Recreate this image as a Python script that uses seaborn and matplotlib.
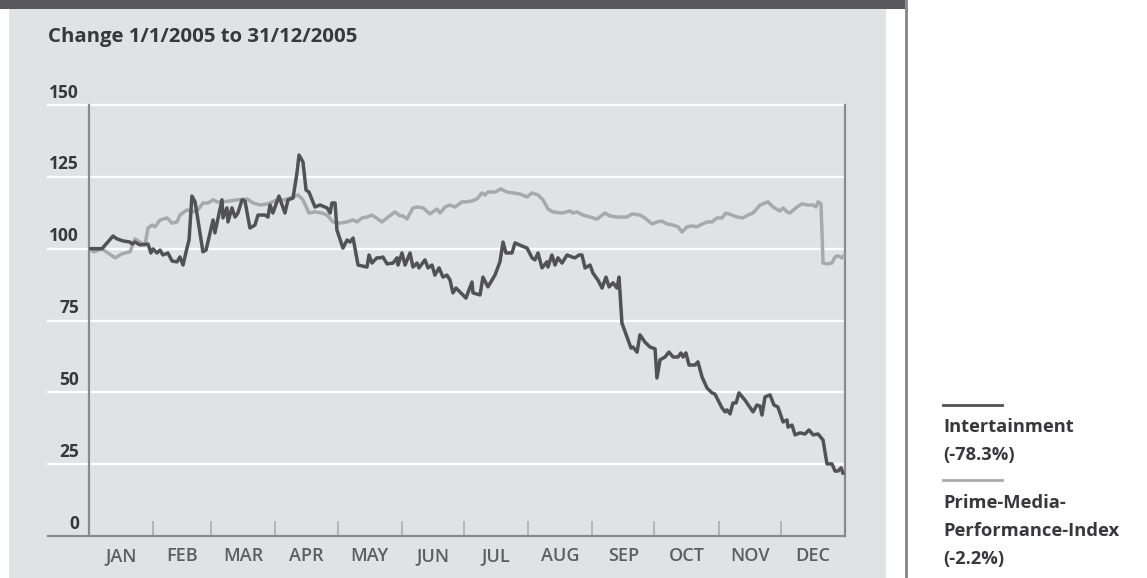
import numpy as np
import pandas as pd
import matplotlib
matplotlib.use("Agg")
import matplotlib.pyplot as plt
import seaborn as sns
from matplotlib.patches import Rectangle
from matplotlib.lines import Line2D

# ---------------- data ----------------
TITLE = "Change 1/1/2005 to 31/12/2005"
MONTHS = ["JAN", "FEB", "MAR", "APR", "MAY", "JUN", "JUL", "AUG", "SEP", "OCT", "NOV", "DEC"]
MONTH_STARTS = [0, 31, 59, 90, 120, 151, 181, 212, 243, 273, 304, 334, 365]
YTICKS = [0, 25, 50, 75, 100, 125, 150]
LEGEND_LABELS = ["Intertainment\n(-78.3%)", "Prime-Media-\nPerformance-Index\n(-2.2%)"]

inter_days = [0, 6.3, 11.6, 13.5, 16.4, 19.8, 20.8, 22.2, 24.6, 28.5, 29.9, 30.9, 32.8, 34.3, 35.7,
              38.1, 40.1, 42.5, 43.9, 45.4, 47.3, 48.3, 49.7, 51.2, 52.6, 55.0, 56.5, 59.9, 60.8,
              64.2, 64.7, 66.6, 67.1, 69.0, 70.5, 71.9, 73.9, 75.3, 77.7, 80.1, 81.6, 85.0, 86.4,
              87.4, 88.8, 91.7, 94.6, 96.1, 98.5, 100.4, 101.4, 103.3, 104.8, 106.2, 109.1, 111.5,
              114.9, 116.4, 117.3, 118.8, 119.7, 122.6, 124.6, 126.0, 127.5, 129.9, 134.2, 135.2,
              136.6, 139.0, 140.5, 141.9, 143.9, 146.8, 148.7, 149.2, 151.1, 152.6, 155.0, 156.4,
              158.4, 159.3, 162.2, 163.7, 165.6, 167.0, 169.0, 170.9, 172.8, 174.3, 175.7, 177.2,
              182.0, 184.9, 185.4, 188.8, 190.2, 192.6, 196.0, 198.4, 199.9, 201.3, 204.2, 205.7,
              209.1, 211.5, 213.9, 215.3, 216.8, 218.7, 221.1, 221.6, 223.5, 225.0, 226.4, 228.4,
              230.8, 233.2, 234.6, 236.6, 238.0, 239.5, 241.9, 243.3, 245.7, 247.7, 249.6, 251.1,
              253.0, 254.9, 255.9, 257.3, 259.7, 261.7, 262.6, 264.6, 266.0, 268.4, 270.8, 273.3,
              274.2, 275.7, 278.1, 280.0, 282.0, 284.4, 285.8, 286.8, 288.2, 289.7, 292.6, 294.0,
              296.0, 298.4, 300.8, 302.2, 305.6, 307.1, 308.0, 309.5, 310.9, 312.4, 313.8, 316.7,
              320.6, 322.5, 324.0, 324.9, 326.4, 328.8, 330.7, 332.6, 335.1, 337.0, 337.5, 339.4,
              340.9, 343.3, 345.7, 347.6, 349.6, 352.0, 354.4, 356.3, 358.7, 360.2, 361.6, 363.1,
              364.0]
inter_vals = [100, 100, 104.4, 103.4, 102.7, 102.3, 101.6, 102.3, 101.3, 101.6, 98.5, 99.9, 98.5,
              99.5, 97.8, 98.5, 95.7, 95.4, 97.1, 94.3, 100.2, 103, 118.3, 116.3, 110, 98.9, 99.5,
              110, 105.5, 117, 110.7, 114.2, 109.3, 114.2, 111, 112.4, 117, 116.6, 107.2, 108.2,
              111.7, 111.7, 111, 115.2, 112.4, 118.3, 112.4, 117, 117.6, 126.3, 132.6, 130.2, 120.4,
              119.7, 114.5, 115.2, 114.2, 112.4, 115.9, 115.9, 106.5, 100.2, 103, 102.3, 103.7,
              94.3, 93.6, 97.8, 95, 96.8, 96.8, 97.1, 94.7, 95, 96.8, 94.3, 98.5, 94.3, 98.5, 93.6,
              95, 93.3, 96.1, 93.3, 94.3, 90.8, 93.3, 90.1, 90.8, 89.1, 84.6, 86.3, 82.8, 88.4,
              84.6, 83.9, 90.1, 86.7, 90.8, 95.4, 102.3, 98.5, 98.5, 102, 100.9, 100.2, 96.8, 96.1,
              98.5, 93.3, 95.4, 93.6, 97.8, 94.3, 96.8, 95, 97.8, 97.1, 96.8, 97.8, 97.8, 93.3,
              94.3, 91.5, 89.1, 86.3, 90.1, 86.7, 88.1, 86.3, 90.1, 74.1, 69.3, 65.4, 65.8, 64,
              70, 67.5, 65.8, 65.1, 55, 61.3, 62.3, 64, 62.3, 62.3, 63.7, 62.3, 63.7, 59.5, 59.5,
              60.6, 55.3, 51.5, 49.8, 49.4, 44.6, 43.2, 43.9, 42.5, 46.3, 46.3, 49.8, 47.3, 43.2,
              45.6, 45.2, 42.1, 48.4, 49.1, 45.6, 44.9, 39.7, 40.4, 37.9, 38.6, 35.2, 35.9, 35.5,
              36.9, 35.2, 35.5, 33.4, 25.1, 25.1, 22.6, 22.6, 23.7, 21.9]

index_days = [0, 2.4, 6.3, 12.6, 15.9, 19.8, 22.2, 24.6, 27.0, 28.5, 30.4, 31.9, 34.3, 37.7, 40.1,
              42.5, 43.9, 47.3, 50.2, 52.6, 55.0, 57.5, 59.9, 61.8, 64.7, 68.1, 71.5, 76.3, 79.2,
              82.6, 86.4, 90.8, 94.6, 98.5, 100.9, 103.3, 106.2, 109.1, 112.5, 114.9, 117.8, 121.2,
              124.6, 127.5, 129.4, 131.8, 134.2, 136.6, 138.1, 141.5, 144.4, 147.7, 150.2, 151.6,
              153.5, 156.4, 158.8, 161.3, 164.6, 168.0, 169.5, 171.9, 174.3, 176.7, 180.1, 182.5,
              184.9, 187.3, 189.7, 191.2, 192.6, 196.0, 198.9, 201.8, 204.7, 208.1, 211.5, 213.9,
              216.8, 219.2, 221.6, 224.0, 228.4, 232.2, 233.7, 235.6, 238.5, 241.9, 245.3, 249.1,
              251.5, 254.9, 259.7, 262.2, 266.0, 268.4, 271.8, 274.2, 276.6, 279.1, 282.0, 284.4,
              286.3, 288.7, 291.1, 293.5, 295.0, 298.4, 300.8, 303.2, 305.6, 307.5, 310.4, 312.9,
              315.7, 318.2, 320.6, 324.0, 326.4, 327.8, 330.2, 333.6, 335.1, 337.0, 338.4, 341.8,
              344.2, 347.1, 349.6, 351.0, 352.0, 353.4, 354.4, 356.3, 358.7, 360.2, 361.6, 363.5,
              364.5]
index_vals = [100, 98.9, 99.9, 96.8, 98.2, 98.9, 103.4, 102.3, 101.3, 107.2, 108.2, 107.6, 110,
              110.7, 108.9, 109.3, 111.7, 113.5, 112.8, 113.5, 115.9, 115.9, 117, 116.3, 116.3,
              116.6, 117, 117.3, 115.9, 115.2, 115.6, 117, 117, 118, 118.7, 117, 112.4, 112.8,
              112.4, 111.7, 109.3, 108.9, 109.3, 110, 109.3, 110.7, 111, 111.7, 111, 109.3, 111,
              112.8, 111.4, 111.4, 110.3, 114.2, 114.5, 114.2, 112.1, 113.8, 112.4, 114.5, 115.2,
              114.5, 116.3, 116.3, 116.6, 117.3, 119.4, 118.7, 119.7, 119.7, 120.8, 119.7, 119.4,
              119, 118, 119.4, 118.7, 117, 113.8, 112.8, 112.4, 113.1, 112.4, 112.8, 111.7, 111,
              110.3, 112.4, 111.4, 111, 111, 112.1, 111.7, 110.7, 108.6, 109.3, 109.6, 108.6,
              108.2, 107.6, 105.8, 107.6, 107.9, 107.6, 108.2, 109.3, 109.3, 110.7, 110.7, 112.4,
              111.7, 111, 110.7, 111.7, 112.4, 115.2, 115.9, 116.3, 114.5, 113.1, 114.2, 112.8,
              112.4, 114.5, 115.6, 115.2, 115.2, 114.5, 116.3, 115.6, 95, 94.7, 95, 97.1, 97.5,
              96.8, 97.6]

# ---------------- styling ----------------
W, H = 1147, 578
DARK = "#525254"
LIGHT = "#a9a9ab"
PANEL = "#e1e2e4"
TEXT = "#38383a"
FONT = ["Open Sans", "DejaVu Sans"]
plt.rcParams["font.family"] = FONT

fig = plt.figure(figsize=(W / 100, H / 100), dpi=100, facecolor="white")

def fx(px):
    return px / W

def fy(py):
    return 1 - py / H

# background panel, top bar, right divider (behind the axes)
fig.patches.append(Rectangle((fx(9), 0), fx(886 - 9), 1 - 9 / H, transform=fig.transFigure,
                             facecolor=PANEL, edgecolor="none", zorder=-10))
fig.patches.append(Rectangle((0, fy(9)), fx(905), 9 / H, transform=fig.transFigure,
                             facecolor="#59595b", edgecolor="none", zorder=-9))
fig.lines.append(Line2D([fx(905.5)] * 2, [0, 1], transform=fig.transFigure,
                        color="#858587", lw=2, zorder=-9))

ax = fig.add_axes([fx(89), (H - 536) / H, fx(756), 431 / H])
ax.set_zorder(5)
ax.set_facecolor(PANEL)

df_i = pd.DataFrame({"day": index_days, "value": index_vals})
df_e = pd.DataFrame({"day": inter_days, "value": inter_vals})

# grid lines (extend left under labels)
xmin_ext = (48 - 89) / 756
for v in YTICKS[1:]:
    ax.axhline(v, xmin=xmin_ext, xmax=1, color="white", lw=1.6, clip_on=False, zorder=1)
ax.axhline(0, xmin=xmin_ext, xmax=1, color="#8a8a8c", lw=1.6, clip_on=False, zorder=3)

sns.lineplot(data=df_i, x="day", y="value", ax=ax, color=LIGHT, lw=2.5, zorder=4)
sns.lineplot(data=df_e, x="day", y="value", ax=ax, color=DARK, lw=2.5, zorder=5)

ax.set_xlim(0, 365)
ax.set_ylim(0, 150)
ax.set_xlabel("")
ax.set_ylabel("")

for s in ["top", "bottom"]:
    ax.spines[s].set_visible(False)
for s in ["left", "right"]:
    ax.spines[s].set_color("#8a8a8c")
    ax.spines[s].set_linewidth(1.6)

# month ticks
centers = [(MONTH_STARTS[i] + MONTH_STARTS[i + 1]) / 2 for i in range(12)]
ax.set_xticks(centers)
ax.set_xticklabels(MONTHS, fontsize=13, color="#5e5e60", fontweight="semibold")
ax.set_xticks(MONTH_STARTS[1:-1], minor=True)
ax.tick_params(axis="x", which="major", length=0, pad=8)
ax.tick_params(axis="x", which="minor", direction="in", length=11, width=1.2, color="#acacae")
ax.set_yticks([])

# y labels above the grid lines
for v in YTICKS:
    ax.annotate(str(v), xy=(-0.013, v), xycoords=("axes fraction", "data"),
                xytext=(0, 2.5), textcoords="offset points", ha="right", va="bottom",
                fontsize=12.5, fontweight="bold", color=TEXT, annotation_clip=False)

# title
fig.text(fx(48), fy(37), TITLE, ha="left", va="center", fontsize=14.7,
         fontweight="bold", color=TEXT)

# legend
fig.lines.append(Line2D([fx(943), fx(1002)], [fy(405)] * 2, transform=fig.transFigure,
                        color=DARK, lw=2))
fig.lines.append(Line2D([fx(943), fx(1002)], [fy(480)] * 2, transform=fig.transFigure,
                        color=LIGHT, lw=2))
line_y = [[427, 455], [503, 531, 559]]
for label, ys in zip(LEGEND_LABELS, line_y):
    for part, yy in zip(label.split("\n"), ys):
        fig.text(fx(943), fy(yy), part, ha="left", va="center", fontsize=13.2,
                 fontweight="bold", color=TEXT)

fig.savefig("out.png", dpi=100, facecolor="white")
